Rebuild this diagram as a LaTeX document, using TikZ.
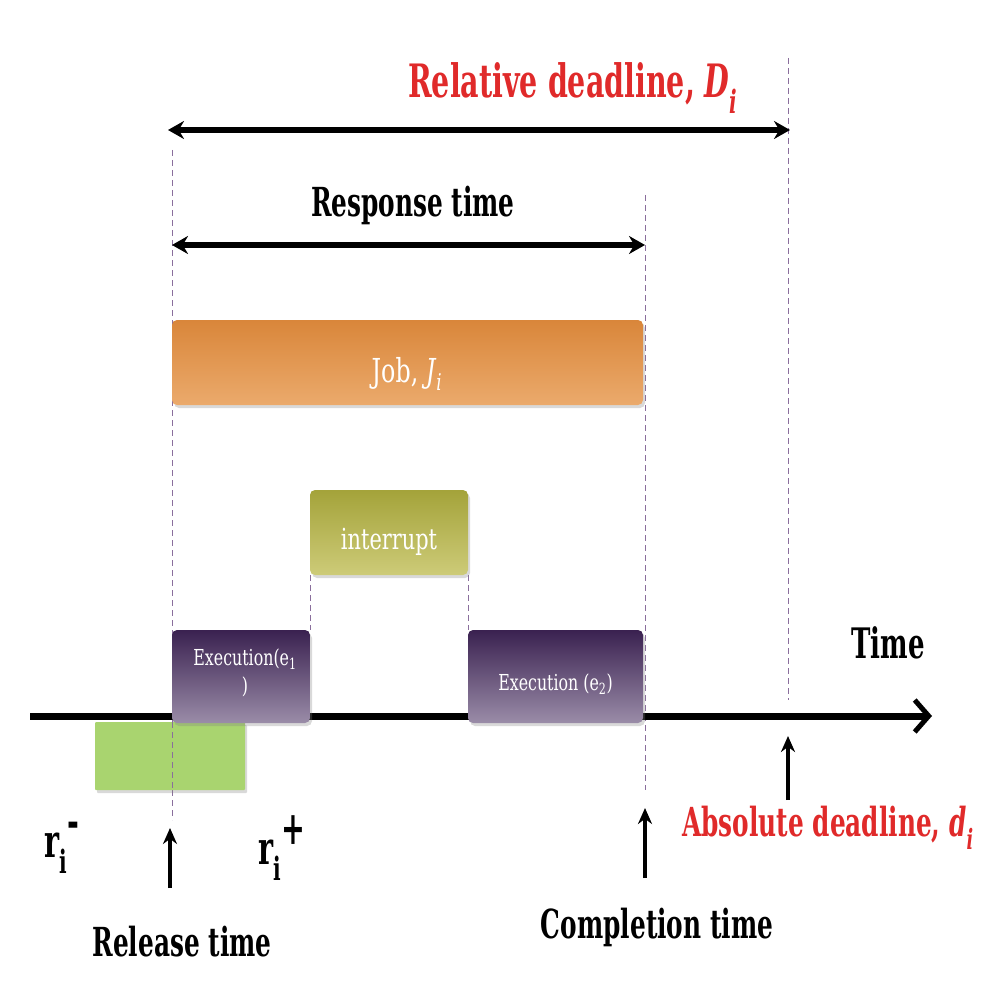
\documentclass[tikz,border=0pt]{standalone}
\usepackage{fontspec}
\setmainfont{DejaVu Serif}[FakeStretch=0.62]
\newfontfamily\barfont{DejaVu Serif}[FakeStretch=0.72]
\usetikzlibrary{arrows.meta,shadows}
\definecolor{dl}{HTML}{E02A2A}
\definecolor{guide}{HTML}{8A6E9C}
\definecolor{jobtop}{HTML}{D9863A}
\definecolor{jobbot}{HTML}{EBAA6C}
\definecolor{inttop}{HTML}{A4A33A}
\definecolor{intbot}{HTML}{CDCB78}
\definecolor{extop}{HTML}{3A2150}
\definecolor{exbot}{HTML}{9A8CA8}
\definecolor{relgreen}{HTML}{A9D46F}
\begin{document}
\begin{tikzpicture}[x=1pt,y=-1pt,
  guideline/.style={draw=guide,line width=1pt,dash pattern=on 6pt off 4pt},
  spanarrow/.style={line width=6pt,{Stealth[length=16pt,width=18pt]}-{Stealth[length=16pt,width=18pt]}},
  uparrow/.style={line width=4pt,-{Stealth[length=16pt,width=14pt]}},
  bigtext/.style={font=\bfseries\fontsize{40}{40}\selectfont,inner sep=0pt},
  bartext/.style={text=white,inner sep=0pt},
  bar/.style={rounded corners=5pt,draw=none,inner sep=0pt,drop shadow={shadow xshift=2pt,shadow yshift=-3pt,opacity=0.3}},
]
\useasboundingbox (0,0) rectangle (1000,1000);

% guides
\coordinate (gR1) at (172,150);
\coordinate (gR2) at (172,820);
\coordinate (gC1) at (645,195);
\coordinate (gC2) at (645,790);
\coordinate (gD1) at (788,58);
\coordinate (gD2) at (788,700);
\coordinate (gI1) at (310,575);
\coordinate (gI2) at (310,630);
\coordinate (gJ1) at (468,575);
\coordinate (gJ2) at (468,630);
\draw[guideline] (gR1) -- (gR2);
\draw[guideline] (gC1) -- (gC2);
\draw[guideline] (gD1) -- (gD2);
\draw[guideline] (gI1) -- (gI2);
\draw[guideline] (gJ1) -- (gJ2);

% time axis
\coordinate (ax0) at (30,716);
\coordinate (ax1) at (932,716);
\draw[line width=7pt,-{Straight Barb[length=14pt,width=32pt,line width=5pt]}] (ax0) -- (ax1);
\node[bigtext,font=\bfseries\fontsize{42}{42}\selectfont] (time) at (888,643) {Time};

% green release jitter box
\node[bar,rounded corners=1pt,fill=relgreen,minimum width=150pt,minimum height=68pt] (jit) at (170,756) {};
\coordinate (gG1) at (172,722);
\coordinate (gG2) at (172,790);
\draw[guideline] (gG1) -- (gG2);

% execution boxes
\node[bar,top color=extop,bottom color=exbot,minimum width=138pt,minimum height=93pt] (ex1) at (241,676.5) {};
\node[bartext,font=\barfont\fontsize{22}{28}\selectfont,align=center] (ex1t) at (245,673) {Execution(e\textsubscript{1}\\)};
\node[bar,top color=extop,bottom color=exbot,minimum width=175pt,minimum height=93pt] (ex2) at (555.5,676.5) {};
\node[bartext,font=\barfont\fontsize{22}{22}\selectfont] (ex2t) at (555.5,684) {Execution (e\textsubscript{2})};

% interrupt
\node[bar,top color=inttop,bottom color=intbot,minimum width=158pt,minimum height=85pt] (intr) at (389,532.5) {};
\node[bartext,font=\barfont\fontsize{29}{29}\selectfont] (intrt) at (389,542) {interrupt};

% job bar
\node[bar,top color=jobtop,bottom color=jobbot,minimum width=471pt,minimum height=85pt] (job) at (407.5,362.5) {};
\node[bartext,font=\barfont\fontsize{33}{33}\selectfont] (jobt) at (407,374) {Job, \textit{J}\textsubscript{\textit{i}}};

% response time
\coordinate (rs0) at (172,245);
\coordinate (rs1) at (645,245);
\draw[spanarrow] (rs0) -- (rs1);
\node[bigtext] (resp) at (413,205) {Response time};

% relative deadline
\coordinate (rd0) at (168,130);
\coordinate (rd1) at (790,130);
\draw[spanarrow] (rd0) -- (rd1);
\node[bigtext,text=dl,font=\bfseries\fontsize{46}{46}\selectfont] (rel) at (573,88) {Relative deadline, \textit{D}\textsubscript{\textit{i}}};

% release
\coordinate (ra0) at (170,888);
\coordinate (ra1) at (170,828);
\draw[uparrow] (ra0) -- (ra1);
\node[bigtext] (rel2) at (182,942) {Release time};
\node[bigtext,font=\bfseries\fontsize{46}{46}\selectfont] (rminus) at (62,848) {r\textsubscript{i}\raisebox{20pt}{-}};
\node[bigtext,font=\bfseries\fontsize{46}{46}\selectfont] (rplus) at (282,848) {r\textsubscript{i}\raisebox{20pt}{+}};

% completion
\coordinate (ca0) at (645,878);
\coordinate (ca1) at (645,808);
\draw[uparrow] (ca0) -- (ca1);
\node[bigtext] (comp) at (657,927) {Completion time};

% absolute deadline
\coordinate (da0) at (788,800);
\coordinate (da1) at (788,736);
\draw[uparrow] (da0) -- (da1);
\node[bigtext,text=dl] (abs) at (828,828) {Absolute deadline, \textit{d}\textsubscript{\textit{i}}};
\end{tikzpicture}
\end{document}
